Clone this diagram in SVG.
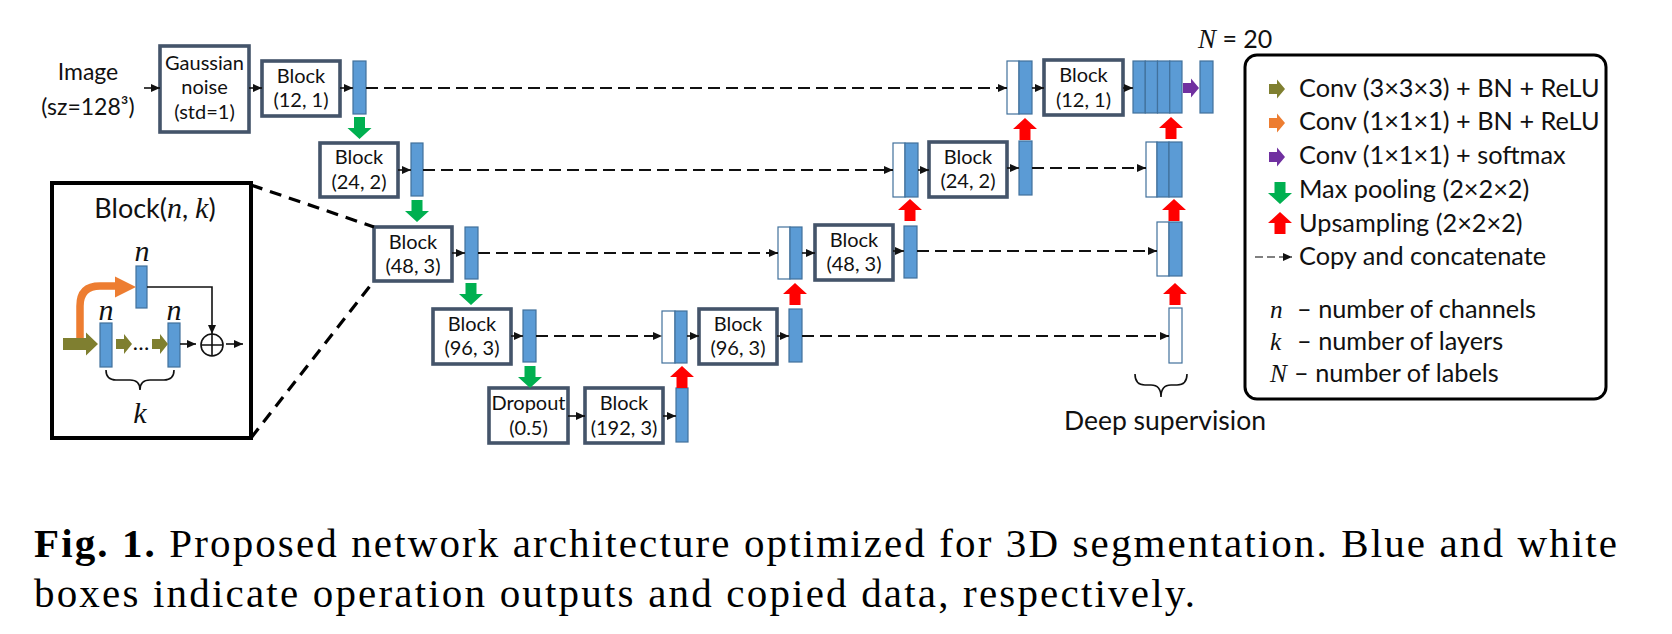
<svg xmlns="http://www.w3.org/2000/svg" width="1672" height="634" viewBox="0 0 1672 634">
<style>
.box{fill:#fff;stroke:#44546A;stroke-width:3.6}
.bar{fill:#5B9BD5;stroke:#41719C;stroke-width:1.2}
.wbar{fill:#fff;stroke:#41719C;stroke-width:1.2}
.t{font-family:Lato,'Liberation Sans',sans-serif;fill:#111;text-anchor:middle}
.bt{font-size:20px}
.lg{font-family:Lato,'Liberation Sans',sans-serif;font-size:25.3px;fill:#111}
.m{font-family:'Liberation Serif','DejaVu Serif',serif;font-style:italic}
.ln{fill:none;stroke:#111;stroke-width:1.6}
.dash{fill:none;stroke:#111;stroke-width:2;stroke-dasharray:12 6}
.zoom{fill:none;stroke:#000;stroke-width:3.2;stroke-dasharray:12 8}
.g{fill:#00B050}.r{fill:#FF0000}.o{fill:#7F7F30}.or{fill:#ED7D31}.p{fill:#7030A0}
.cap{font-family:'Liberation Serif',serif;font-size:41px;fill:#000}
</style>
<defs>
<marker id="ah" viewBox="0 0 9 8" refX="9" refY="4" markerWidth="9" markerHeight="8" markerUnits="userSpaceOnUse" orient="auto"><path d="M0,0L9,4L0,8z" fill="#111"/></marker>
<path id="down" d="M-5.5,0H5.5V11H12L0,22L-12,11H-5.5Z"/>
<path id="up" d="M0,0L12,11H5.5V22H-5.5V11H-12Z"/>
<path id="right" d="M0,-5H8V-9.5L16,0L8,9.5V5H0Z"/>
</defs>

<g id="image-label">
<text class="t" font-size="23" x="88" y="80">Image</text>
<text class="t" font-size="23" x="88" y="115">(sz=128³)</text>
</g>

<g id="gaussian">
<rect class="box" x="160" y="46" width="89" height="86"/>
<text class="t bt" x="204.5" y="70">Gaussian</text>
<text class="t bt" x="204.5" y="94">noise</text>
<text class="t bt" x="204.5" y="119">(std=1)</text>
</g>

<g id="enc1">
<rect class="box" x="262" y="61" width="78" height="55"/>
<text class="t bt" x="301" y="83">Block</text>
<text class="t bt" x="301" y="107">(12, 1)</text>
<rect class="bar" x="353" y="61" width="13" height="53"/>
</g>
<g id="enc2">
<rect class="box" x="320" y="143" width="78" height="54"/>
<text class="t bt" x="359" y="164">Block</text>
<text class="t bt" x="359" y="189">(24, 2)</text>
<rect class="bar" x="411" y="143" width="12" height="53"/>
</g>
<g id="enc3">
<rect class="box" x="374" y="227" width="78" height="54"/>
<text class="t bt" x="413" y="248.5">Block</text>
<text class="t bt" x="413" y="272.5">(48, 3)</text>
<rect class="bar" x="465" y="227" width="13" height="52"/>
</g>
<g id="enc4">
<rect class="box" x="433" y="309" width="78" height="55"/>
<text class="t bt" x="472" y="331">Block</text>
<text class="t bt" x="472" y="355">(96, 3)</text>
<rect class="bar" x="523" y="310" width="13" height="52"/>
</g>
<g id="dropout">
<rect class="box" x="489" y="388" width="79" height="55"/>
<text class="t bt" x="528.5" y="410">Dropout</text>
<text class="t bt" x="528.5" y="434.5">(0.5)</text>
</g>
<g id="bottleneck">
<rect class="box" x="585" y="388" width="78" height="55"/>
<text class="t bt" x="624" y="410">Block</text>
<text class="t bt" x="624" y="434.5">(192, 3)</text>
<rect class="bar" x="676" y="388" width="12" height="54"/>
</g>
<g id="dec3">
<rect class="wbar" x="662" y="311" width="13" height="52"/>
<rect class="bar" x="675" y="311" width="12" height="52"/>
<rect class="box" x="699" y="309" width="78" height="55"/>
<text class="t bt" x="738" y="331">Block</text>
<text class="t bt" x="738" y="355">(96, 3)</text>
<rect class="bar" x="789" y="309" width="13" height="53"/>
</g>
<g id="dec2">
<rect class="wbar" x="778" y="227" width="12" height="52"/>
<rect class="bar" x="790" y="227" width="12" height="52"/>
<rect class="box" x="815" y="225" width="78" height="55"/>
<text class="t bt" x="854" y="247">Block</text>
<text class="t bt" x="854" y="271">(48, 3)</text>
<rect class="bar" x="904" y="226" width="13" height="52"/>
</g>
<g id="dec1">
<rect class="wbar" x="893" y="143" width="12" height="54"/>
<rect class="bar" x="905" y="143" width="13" height="54"/>
<rect class="box" x="929" y="142" width="78" height="55"/>
<text class="t bt" x="968" y="164">Block</text>
<text class="t bt" x="968" y="188">(24, 2)</text>
<rect class="bar" x="1019" y="141" width="13" height="54"/>
</g>
<g id="dec0">
<rect class="wbar" x="1007" y="61" width="12" height="53"/>
<rect class="bar" x="1019" y="61" width="13" height="53"/>
<rect class="box" x="1044" y="60" width="79" height="55"/>
<text class="t bt" x="1083.5" y="82">Block</text>
<text class="t bt" x="1083.5" y="106.5">(12, 1)</text>
</g>
<g id="ds-stack0">
<rect class="bar" x="1133" y="61" width="12.25" height="52"/>
<rect class="bar" x="1145.25" y="61" width="12.25" height="52"/>
<rect class="bar" x="1157.5" y="61" width="12.25" height="52"/>
<rect class="bar" x="1169.75" y="61" width="12.25" height="52"/>
</g>
<g id="output">
<rect class="bar" x="1200" y="61" width="13" height="52"/>
<text class="t" font-size="25" x="1198" y="48" style="text-anchor:start"><tspan class="m" font-size="27">N</tspan> = 20</text>
</g>
<g id="ds-stack1">
<rect class="wbar" x="1146" y="142" width="11" height="55"/>
<rect class="bar" x="1157" y="142" width="12" height="55"/>
<rect class="bar" x="1169" y="142" width="13" height="55"/>
</g>
<g id="ds-stack2">
<rect class="wbar" x="1157" y="222" width="12" height="54"/>
<rect class="bar" x="1169" y="222" width="13" height="54"/>
</g>
<g id="ds-stack3">
<rect class="wbar" x="1169" y="308" width="13" height="55"/>
</g>
<g id="deep-supervision">
<path class="ln" d="M1135,374Q1135,385 1145,385H1151Q1161,385 1161,397Q1161,385 1171,385H1177Q1187,385 1187,374"/>
<text class="t" font-size="26.5" x="1165" y="430">Deep supervision</text>
</g>

<g id="connectors">
<g marker-end="url(#ah)">
<path class="ln" d="M144,88H160"/>
<path class="ln" d="M249,88H262"/>
<path class="ln" d="M340,88H353"/>
<path class="ln" d="M398,170H411"/>
<path class="ln" d="M452,253H465"/>
<path class="ln" d="M511,336H523"/>
<path class="ln" d="M568,416H585"/>
<path class="ln" d="M663,416H676"/>
<path class="ln" d="M687,336H699"/>
<path class="ln" d="M777,336H789"/>
<path class="ln" d="M802,253H815"/>
<path class="ln" d="M893,251H904"/>
<path class="ln" d="M918,170H929"/>
<path class="ln" d="M1007,168H1019"/>
<path class="ln" d="M1032,88H1044"/>
<path class="ln" d="M1123,88H1133"/>
<path class="dash" d="M366,88H1007"/>
<path class="dash" d="M423,170H893"/>
<path class="dash" d="M478,253H778"/>
<path class="dash" d="M536,336H662"/>
<path class="dash" d="M1032,168H1146"/>
<path class="dash" d="M917,251H1157"/>
<path class="dash" d="M802,336H1169"/>
</g>
<use href="#down" class="g" x="359.5" y="117"/>
<use href="#down" class="g" x="417" y="200"/>
<use href="#down" class="g" x="471" y="283"/>
<use href="#down" class="g" x="530" y="366"/>
<use href="#up" class="r" x="682" y="366"/>
<use href="#up" class="r" x="795" y="283"/>
<use href="#up" class="r" x="910" y="199"/>
<use href="#up" class="r" x="1025" y="118"/>
<use href="#up" class="r" x="1175" y="283"/>
<use href="#up" class="r" x="1174" y="199"/>
<use href="#up" class="r" x="1171" y="117"/>
<use href="#right" class="p" x="1183" y="88"/>
<path class="zoom" d="M251,185L374,227"/>
<path class="zoom" d="M251,438L374,281"/>
</g>

<g id="block-detail">
<rect x="52" y="183" width="199" height="255" fill="#fff" stroke="#000" stroke-width="4"/>
<text class="t" font-size="27" x="155" y="218">Block(<tspan class="m" font-size="30">n</tspan>, <tspan class="m" font-size="30">k</tspan>)</text>
<text class="t m" font-size="30" x="142" y="261">n</text>
<text class="t m" font-size="30" x="106" y="320">n</text>
<text class="t m" font-size="30" x="174" y="320">n</text>
<rect class="bar" x="136" y="266" width="11" height="42"/>
<rect class="bar" x="100" y="323" width="12" height="44"/>
<rect class="bar" x="168" y="323" width="12" height="44"/>
<path d="M80,338V306Q80,286 100,286H117" fill="none" stroke="#ED7D31" stroke-width="7.5"/>
<path d="M115,276.5L136,287L115,297.5Z" class="or"/>
<path d="M63,338H86V332.5L98,344L86,355.5V350H63Z" class="o"/>
<path d="M116,339H124V334L132,344L124,354V349H116Z" class="o"/>
<path d="M152,339H160V334L168,344L160,354V349H152Z" class="o"/>
<text class="t" font-size="22" x="141" y="350">…</text>
<path class="ln" d="M147,287H212V334" marker-end="url(#ah)"/>
<path class="ln" d="M180,344H196" marker-end="url(#ah)"/>
<path class="ln" d="M226,344H243" marker-end="url(#ah)"/>
<circle cx="212" cy="345" r="11" fill="none" stroke="#111" stroke-width="1.6"/>
<path class="ln" d="M201,345H223M212,334V356"/>
<path class="ln" d="M106,370Q106,380 116,380H130Q140,380 140,390Q140,380 150,380H164Q174,380 174,370"/>
<text class="t m" font-size="30" x="140" y="423">k</text>
</g>

<g id="legend">
<rect x="1245" y="55" width="361" height="344" rx="12" fill="#fff" stroke="#000" stroke-width="3"/>
<use href="#right" class="o" x="1269" y="89"/>
<use href="#right" class="or" x="1269" y="123"/>
<use href="#right" class="p" x="1269" y="157"/>
<use href="#down" class="g" x="1280" y="182"/>
<use href="#up" class="r" x="1280" y="212"/>
<path d="M1255,257H1292" fill="none" stroke="#808080" stroke-width="2" stroke-dasharray="8 4" marker-end="url(#ah)"/>
<text class="lg" x="1299" y="97">Conv (3×3×3) + BN + ReLU</text>
<text class="lg" x="1299" y="130">Conv (1×1×1) + BN + ReLU</text>
<text class="lg" x="1299" y="164">Conv (1×1×1) + softmax</text>
<text class="lg" x="1299" y="198">Max pooling (2×2×2)</text>
<text class="lg" x="1299" y="232">Upsampling (2×2×2)</text>
<text class="lg" x="1299" y="265">Copy and concatenate</text>
<text class="lg m" font-size="28" x="1270" y="318">n</text>
<text class="lg m" font-size="28" x="1270" y="350">k</text>
<text class="lg m" font-size="28" x="1270" y="382">N</text>
<text class="lg" x="1297" y="318">– number of channels</text>
<text class="lg" x="1297" y="350">– number of layers</text>
<text class="lg" x="1294" y="382">– number of labels</text>
</g>

<g id="caption">
<text class="cap" x="34" y="557" textLength="1583" lengthAdjust="spacing"><tspan font-weight="bold">Fig. 1.</tspan> Proposed network architecture optimized for 3D segmentation. Blue and white</text>
<text class="cap" x="34" y="607" textLength="1161" lengthAdjust="spacing">boxes indicate operation outputs and copied data, respectively.</text>
</g>
</svg>
